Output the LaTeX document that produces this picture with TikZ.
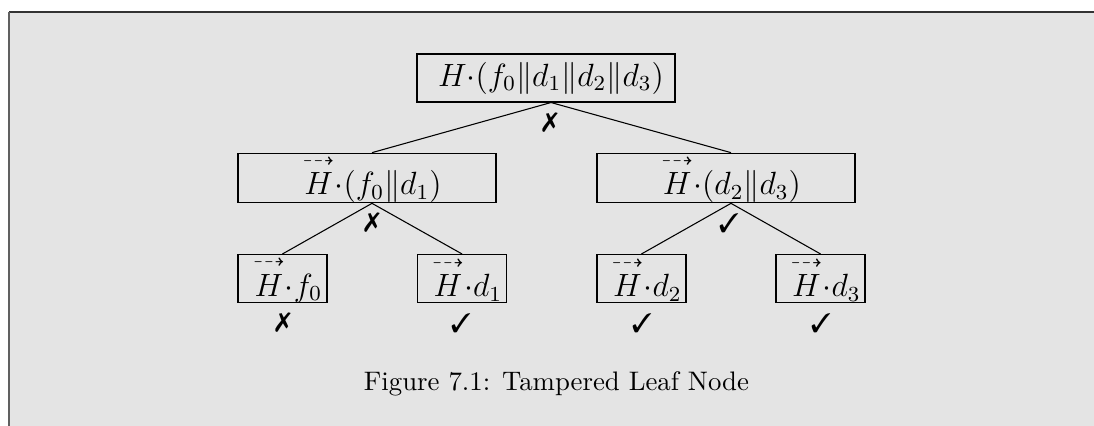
\documentclass[tikz,border=0pt]{standalone}
\usepackage{amsmath,amssymb,pifont}
\usetikzlibrary{calc}
\definecolor{panel}{HTML}{E4E4E4}
\definecolor{edgetop}{HTML}{333333}
\definecolor{edgeleft}{HTML}{606060}
\newlength{\px}\setlength{\px}{0.3731pt}
\newcommand{\vH}{\overset{\dashrightarrow}{H}}
\begin{document}
\begin{tikzpicture}[x=0.3731pt,y=-0.3731pt,
  treebox/.style={draw=black, line width=0.4pt, inner sep=0pt, font=\large, minimum height=48\px},
  widebox/.style={treebox, minimum width=258\px},
  leafbox/.style={treebox, minimum width=89\px},
  conn/.style={draw=black, line width=0.4pt},
  verdict/.style={inner sep=0pt, font=\normalsize}
]
\useasboundingbox (0,0) rectangle (1094,426);
\fill[white] (0,0) rectangle (1094,426);
\fill[panel] (9,12) rectangle (1094,426);
\draw[edgetop, line width=1.5\px] (9,12) -- (1094,12);
\draw[edgeleft, line width=2\px] (9,12) -- (9,426);

\node[widebox] (r) at (546,78) {\hspace*{10\px}$H{\cdot}(f_0\|d_1\|d_2\|d_3)$};
\node[widebox] (a) at (367,178) {\hspace*{10\px}$\vH{\cdot}(f_0\|d_1)$};
\node[widebox] (b) at (726,178) {\hspace*{10\px}$\vH{\cdot}(d_2\|d_3)$};
\node[leafbox] (l1) at (282.5,278.5) {\hspace*{10\px}$\vH{\cdot}f_0$};
\node[leafbox] (l2) at (462,278.5) {\hspace*{10\px}$\vH{\cdot}d_1$};
\node[leafbox] (l3) at (641.5,278.5) {\hspace*{10\px}$\vH{\cdot}d_2$};
\node[leafbox] (l4) at (820.5,278.5) {\hspace*{10\px}$\vH{\cdot}d_3$};

\draw[conn] ([xshift=5\px]r.south) -- ([xshift=5\px]a.north);
\draw[conn] ([xshift=5\px]r.south) -- ([xshift=5\px]b.north);
\draw[conn] ([xshift=5\px]a.south) -- (l1.north);
\draw[conn] ([xshift=5\px]a.south) -- (l2.north);
\draw[conn] ([xshift=5\px]b.south) -- (l3.north);
\draw[conn] ([xshift=5\px]b.south) -- (l4.north);

\node[verdict] (vr) at (550,123) {\ding{55}};
\node[verdict] (va) at (372,223) {\ding{55}};
\node[verdict] (vb) at (729,223) {\ding{51}};
\node[verdict] (v1) at (283,323) {\ding{55}};
\node[verdict] (v2) at (461,323) {\ding{51}};
\node[verdict] (v3) at (642,323) {\ding{51}};
\node[verdict] (v4) at (821,323) {\ding{51}};

\node[anchor=base, inner sep=0pt] (cap) at (556.5,391) {Figure 7.1: Tampered Leaf Node};
\end{tikzpicture}
\end{document}
